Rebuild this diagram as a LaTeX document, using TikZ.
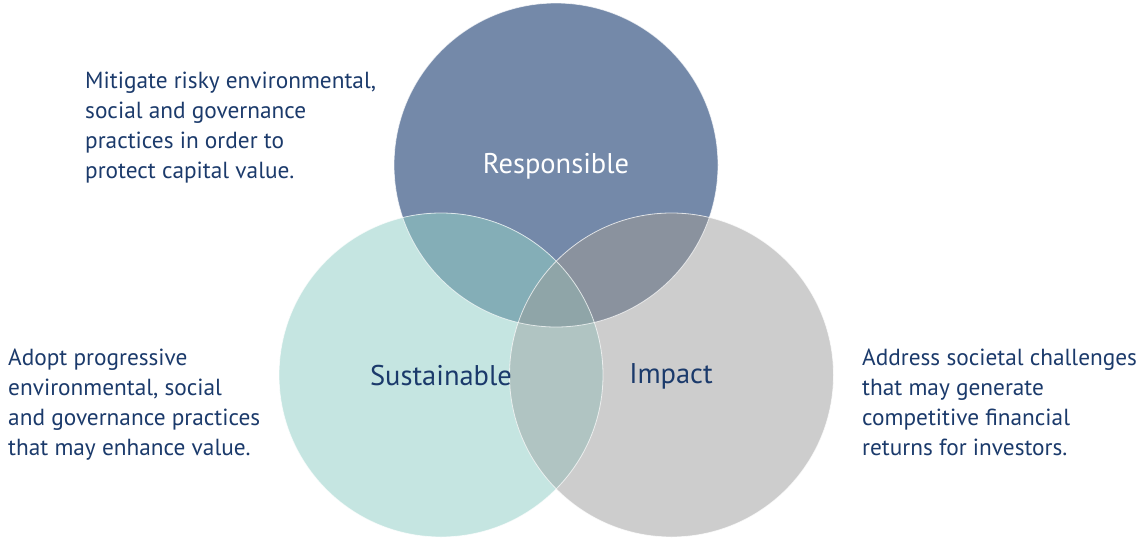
\documentclass[tikz,border=0pt]{standalone}
\usepackage{fontspec}
\setmainfont{PT Sans}
\definecolor{resp}{HTML}{7489A9}
\definecolor{sust}{HTML}{C5E5E1}
\definecolor{imp}{HTML}{CDCDCD}
\definecolor{rs}{HTML}{84AEB7}
\definecolor{ri}{HTML}{8A929E}
\definecolor{si}{HTML}{B0C4C2}
\definecolor{rsi}{HTML}{8FA5A8}
\definecolor{navy}{HTML}{1B3A6B}
\tikzset{
  circ/.style={draw=white, draw opacity=0.7, line width=0.8pt},
  desc/.style={align=left, inner sep=0pt, text=navy, font=\fontsize{23.3}{30}\selectfont},
  lab/.style={inner sep=0pt, font=\fontsize{28.5}{32}\selectfont}
}
\begin{document}
\begin{tikzpicture}[x=1pt,y=-1pt]
\useasboundingbox (0,0) rectangle (1137,541);
\def\R{162}
\coordinate (cr) at (556,165);
\coordinate (cs) at (441,375);
\coordinate (ci) at (671.5,375);
\fill[resp] (cr) circle (\R);
\fill[sust] (cs) circle (\R);
\fill[imp] (ci) circle (\R);
\begin{scope}
  \clip (cr) circle (\R);
  \fill[rs] (cs) circle (\R);
  \fill[ri] (ci) circle (\R);
  \clip (cs) circle (\R);
  \fill[rsi] (ci) circle (\R);
\end{scope}
\begin{scope}
  \clip (cs) circle (\R);
  \clip (ci) circle (\R);
  \fill[si] (0,0) rectangle (1137,541);
  \fill[rsi] (cr) circle (\R);
\end{scope}
\draw[circ] (cr) circle (\R);
\draw[circ] (cs) circle (\R);
\draw[circ] (ci) circle (\R);
\node[lab, text=white] (lr) at (556,166) {Responsible};
\node[lab, text=navy] (ls) at (441,376) {Sustainable};
\node[lab, text=navy] (li) at (671,376) {Impact};
\node[desc, anchor=north west] (dr) at (85,71.5) {Mitigate risky environmental,\\social and governance\\practices in order to\\protect capital value.};
\node[desc, anchor=north west] (ds) at (8,348.5) {Adopt progressive\\environmental, social\\and governance practices\\that may enhance value.};
\node[desc, anchor=north west] (di) at (862,348.5) {Address societal challenges\\that may generate\\competitive financial\\returns for investors.};
\end{tikzpicture}
\end{document}
